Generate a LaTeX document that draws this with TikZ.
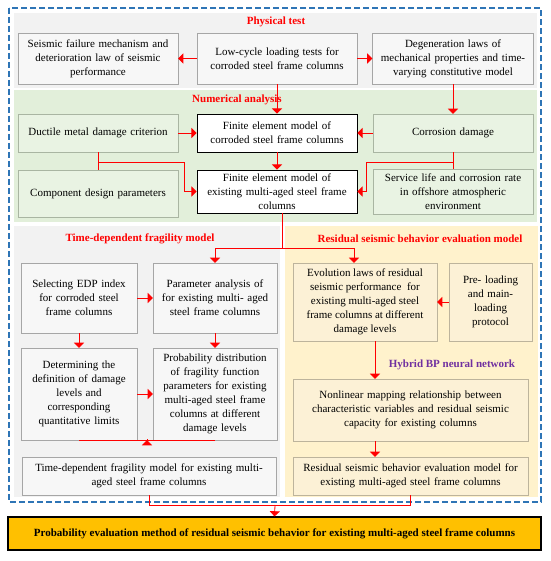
\documentclass[tikz,border=0pt]{standalone}
\usepackage{fontspec}
\setmainfont{Liberation Serif}
\usetikzlibrary{shapes,arrows,positioning,calc}
\definecolor{regiongray}{HTML}{F2F2F2}
\definecolor{regiongreen}{HTML}{E2EFDA}
\definecolor{regionorange}{HTML}{FFF2CC}
\definecolor{boxgray}{HTML}{A6A6A6}
\definecolor{boxgreen}{HTML}{A9B5A2}
\definecolor{boxtan}{HTML}{BDB49C}
\definecolor{fillgray}{HTML}{F7F7F7}
\definecolor{fillgreen}{HTML}{E9F3E3}
\definecolor{fillorange}{HTML}{FCF1D6}
\definecolor{dashblue}{HTML}{2E75B6}
\definecolor{titlepurple}{HTML}{7030A0}
\definecolor{goldfill}{HTML}{FFC000}

\begin{document}
\begin{tikzpicture}[x=1pt,y=-1pt,font=\fontsize{11}{14}\selectfont]
 \tikzset{test node/.style={rectangle, draw=boxgray, fill=fillgray,
 		align=center, inner sep=2pt}, }
 \tikzset{num node/.style={test node, draw=boxgreen, fill=fillgreen}, }
 \tikzset{fe node/.style={rectangle, draw=black, fill=white, line width=0.9pt,
 		align=center, inner sep=2pt}, }
 \tikzset{res node/.style={test node, draw=boxtan, fill=fillorange}, }
 \tikzset{title node/.style={text=red, font=\fontsize{11}{14}\selectfont\bfseries}, }
 \tikzset{linea/.style={red, line width=0.8pt, -triangle 90},}
 \tikzset{lineb/.style={red, line width=0.8pt},}

 \useasboundingbox (0,0) rectangle (550,561);
 \fill[regiongray] (14,13) rectangle (537,88);
 \fill[regiongreen] (14,90) rectangle (537,222);
 \fill[regiongray] (14,226) rectangle (280,497);
 \fill[regionorange] (285,226) rectangle (538,497);
 \draw[dashblue, line width=1.2pt, dash pattern=on 6pt off 3pt] (9,8) rectangle (541,502);

 \node[title node] (t1) at (276,22) {Physical test};
 \node[title node] (t2) at (237,100) {Numerical analysis};
 \node[title node] (t3) at (140,239) {Time-dependent fragility model};
 \node[title node] (t4) at (420,239) {Residual seismic behavior evaluation model};
 \node[title node, text=titlepurple] (t5) at (452,365) {Hybrid BP neural network};

 \node[test node, text width=156pt, minimum height=51pt] (pt1) at (98,58.5)
 	{Seismic failure mechanism and\\ deterioration law of seismic\\ performance};
 \node[test node, text width=156pt, minimum height=51pt] (pt2) at (277,58.5)
 	{Low-cycle loading tests for\\ corroded steel frame columns};
 \node[test node, text width=157pt, minimum height=51pt] (pt3) at (453,58.5)
 	{Degeneration laws of\\ mechanical properties and time-\\ varying constitutive model};

 \node[num node, text width=156pt, minimum height=38pt] (na1) at (98,133) {Ductile metal damage criterion};
 \node[num node, text width=156pt, minimum height=47pt] (na2) at (98,194) {Component design parameters};
 \node[fe node, text width=156pt, minimum height=38pt] (fe1) at (277,133)
 	{Finite element model of\\ corroded steel frame columns};
 \node[fe node, text width=156pt, minimum height=43pt] (fe2) at (277,191.5)
 	{Finite element model of\\ existing multi-aged steel frame\\ columns};
 \node[num node, text width=156pt, minimum height=38pt] (na3) at (453,133) {Corrosion damage};
 \node[num node, text width=156pt, minimum height=45pt] (na4) at (453,191.5)
 	{Service life and corrosion rate\\ in offshore atmospheric\\ environment};

 \node[test node, text width=112pt, minimum height=70pt] (tf1) at (79,298)
 	{Selecting EDP index\\ for corroded steel\\ frame columns};
 \node[test node, text width=120pt, minimum height=70pt] (tf2) at (215,298)
 	{Parameter analysis of\\ for existing multi- aged\\ steel frame columns};
 \node[test node, text width=112pt, minimum height=92pt] (tf3) at (79,394)
 	{Determining the\\ definition of damage\\ levels and\\ corresponding\\ quantitative limits};
 \node[test node, text width=120pt, minimum height=92pt] (tf4) at (215,394)
 	{Probability distribution\\ of fragility function\\ parameters for existing\\ multi-aged steel frame\\ columns at different\\ damage levels};
 \node[test node, text width=250pt, minimum height=38pt] (tf5) at (149,476)
 	{Time-dependent fragility model for existing multi-\\ aged steel frame columns};

 \node[res node, minimum width=144pt, minimum height=78pt] (rs1) at (365,302)
 	{Evolution laws of residual\\ seismic performance\ \ for\\ existing multi-aged steel\\ frame columns at different\\ damage levels};
 \node[res node, text width=79pt, minimum height=78pt] (rs2) at (490.5,302)
 	{Pre- loading\\ and main-\\ loading\\ protocol};
 \node[res node, text width=231pt, minimum height=62pt] (rs3) at (410.5,410)
 	{Nonlinear mapping relationship between\\ characteristic variables and residual seismic\\ capacity for existing columns};
 \node[res node, text width=231pt, minimum height=38pt] (rs4) at (410.5,476)
 	{Residual seismic behavior evaluation model for\\ existing multi-aged steel frame columns};

 \node[rectangle, draw=black, fill=goldfill, line width=1.2pt, minimum width=533pt,
 	minimum height=33pt, font=\fontsize{11}{14}\selectfont\bfseries] (pm) at (274.5,533.5)
 	{Probability evaluation method of residual seismic behavior for existing multi-aged steel frame columns};

 \coordinate (j1) at (184,162);
 \coordinate (j2) at (366,162);
 \coordinate (j3) at (282,248);
 \coordinate (j4) at (275,505);
 \coordinate (ax) at (375,0);

 \foreach \x /\y in{pt2/pt1,pt2/pt3,pt2/fe1,pt3/na3,na1/fe1,na3/fe1,fe1/fe2,
 	tf1/tf2,tf1/tf3,tf2/tf4,tf3/tf4,rs2/rs1}
 \path[linea] (\x) edge node {} (\y);

 \draw[lineb] (na1.south) -- (na2.north);
 \draw[linea] (na1.south |- j1) -- (j1) |- (fe2.west);
 \draw[lineb] (na3.south) -- (na4.north);
 \draw[linea] (na3.south |- j2) -- (j2) |- (fe2.east);
 \draw[lineb] ([xshift=5pt]fe2.south) -- (j3);
 \draw[linea] (j3) -| (tf2.north);
 \draw[linea] (j3) -| ([xshift=-11pt]rs1.north);
 \draw[lineb] (tf3.south) -- (tf4.south);
 \draw[linea] ($(tf3.south)!0.5!(tf4.south)$) -- ($(tf3.south)!0.5!(tf4.south)$ |- tf5.north);
 \draw[linea] (rs1.south -| ax) -- (rs3.north -| ax);
 \draw[linea] (rs3.south -| ax) -- (rs4.north -| ax);
 \draw[lineb] (tf5.south) |- (j4);
 \draw[lineb] (rs4.south) |- (j4);
 \draw[linea] (j4) -- (pm.north);
% %%
\end{tikzpicture}
\end{document}
